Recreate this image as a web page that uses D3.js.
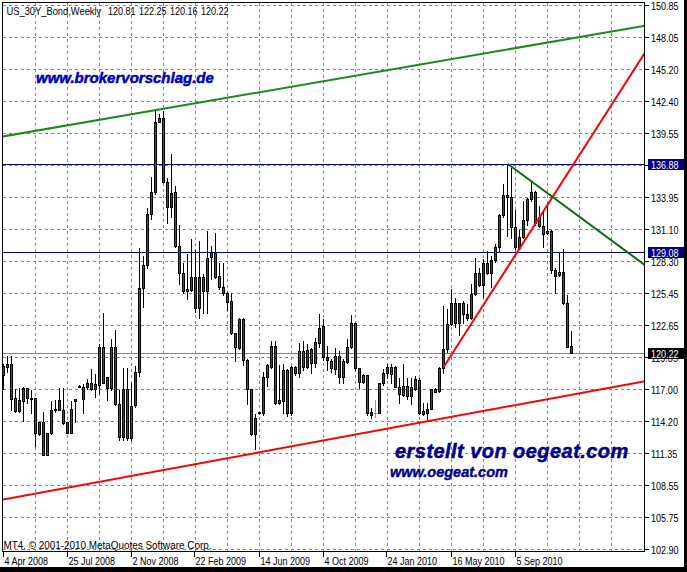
<!DOCTYPE html>
<html><head><meta charset="utf-8">
<script src="https://cdn.jsdelivr.net/npm/d3@7"></script>
<style>
html,body{margin:0;padding:0;background:#fff;}
svg{display:block;}
</style></head><body><svg id="chart" width="687" height="572"></svg>
<script>
// Weekly OHLC, US 30Y Bond, one entry per week starting 4 Apr 2008
const opens = [118.26,118.97,119.23,116.23,115.11,116.01,117.09,116.23,116.19,113.04,114.16,111.23,113.11,115.24,116.06,115.18,114.09,113.18,115.93,117.27,116.12,117.23,117.53,117.00,117.34,120.70,118.11,117.09,120.70,115.71,112.82,117.00,112.68,115.62,118.55,125.90,127.96,132.45,134.36,140.58,140.88,135.30,133.04,134.36,129.66,127.28,125.81,125.75,126.92,124.14,126.87,125.69,128.63,129.04,126.99,125.99,125.46,124.78,121.94,120.61,123.17,119.58,117.00,113.06,114.89,114.89,118.06,118.99,120.82,115.77,116.00,118.70,114.94,118.99,118.41,120.40,118.99,120.53,119.29,121.11,122.58,119.87,119.50,118.76,119.94,118.06,119.43,120.70,122.82,118.85,117.67,118.26,114.74,114.94,114.94,117.53,118.41,118.99,118.94,117.23,116.50,117.29,116.41,117.00,117.82,115.06,114.89,115.24,117.00,116.88,118.85,120.53,122.76,124.63,122.82,124.63,123.64,123.26,125.40,127.22,126.19,128.16,127.22,128.40,129.52,132.36,133.92,133.92,131.28,129.43,130.40,131.92,133.75,134.42,132.21,131.39,130.75,130.98,126.99,127.37,127.37,124.58,120.81];
const highs = [119.32,120.02,120.02,117.12,117.23,117.25,117.23,117.03,116.23,114.25,115.07,113.15,116.06,116.15,117.20,117.18,114.21,116.06,116.19,117.44,117.53,118.02,118.85,118.41,121.08,123.84,118.17,121.50,122.29,117.00,118.99,118.99,117.67,119.14,129.57,128.84,133.09,135.80,141.77,141.38,141.62,135.74,137.85,135.01,131.57,128.25,129.04,130.31,129.37,130.16,127.28,131.04,129.72,130.89,128.25,128.25,125.69,125.60,122.00,123.35,123.35,119.73,117.09,114.94,115.03,118.64,119.29,121.35,121.35,119.23,119.29,118.85,119.14,119.14,121.20,121.35,121.11,120.76,121.58,123.70,123.26,120.91,119.73,120.76,120.46,119.73,121.50,123.64,122.96,118.99,118.41,118.35,115.47,116.12,117.67,118.85,119.35,119.29,119.14,118.06,119.29,118.11,118.06,118.26,118.11,115.91,115.91,117.09,117.23,119.05,124.43,124.14,125.90,125.16,124.72,124.87,124.58,126.40,128.63,127.81,128.55,129.28,128.84,129.87,132.51,135.16,136.88,136.62,132.86,131.10,133.68,133.97,135.38,134.57,133.24,132.86,133.53,131.10,127.75,129.08,129.43,125.40,122.25];
const lows = [117.03,118.53,115.15,115.03,115.04,114.21,115.79,114.91,111.96,113.00,111.17,111.17,113.06,115.00,115.15,113.93,113.11,113.15,114.16,117.18,114.94,117.03,116.94,116.32,116.68,117.53,116.06,116.94,115.62,112.53,112.53,112.53,112.53,115.41,118.17,124.23,127.66,131.98,134.19,140.58,135.30,131.68,132.21,129.57,126.28,125.51,124.93,125.66,123.81,123.26,123.75,123.70,126.70,126.78,125.81,125.31,123.99,121.87,119.52,120.53,119.14,115.71,112.97,111.71,114.82,114.74,117.29,118.85,115.71,115.71,114.89,114.65,114.74,118.26,118.11,118.70,118.85,118.41,118.99,120.76,119.58,118.70,118.55,118.35,117.58,117.58,119.29,120.61,118.70,117.09,117.53,114.74,114.45,114.59,114.89,117.38,117.97,117.58,117.18,115.82,116.41,116.12,115.71,116.94,114.82,114.71,114.36,115.24,116.72,116.79,118.41,120.31,122.67,122.47,121.79,122.87,123.11,123.17,125.31,126.10,125.16,127.16,125.99,128.25,129.13,132.21,130.51,130.31,129.34,129.34,130.31,131.48,133.62,131.48,131.33,129.57,130.69,127.28,125.46,126.99,124.52,120.70,120.16];
const closes = [119.05,119.23,116.12,115.11,116.06,117.12,116.19,116.15,113.12,114.12,111.23,113.13,115.18,115.28,115.20,114.06,113.18,115.24,116.12,117.31,117.18,117.53,117.00,117.44,120.73,117.58,117.09,120.70,115.71,112.82,117.00,112.68,115.53,118.55,125.90,127.96,132.45,134.36,140.58,140.88,135.30,133.04,134.27,129.66,127.28,125.69,125.69,126.92,124.14,126.87,125.69,128.55,129.04,126.92,125.99,125.46,124.72,121.94,120.70,123.17,119.58,117.00,113.06,114.44,114.96,118.11,119.14,120.82,115.77,116.06,118.70,114.94,118.99,118.41,120.40,118.99,120.46,119.35,121.20,122.38,119.87,119.58,118.85,119.94,118.06,119.52,120.70,122.82,118.85,117.67,118.26,114.89,115.03,114.94,117.53,118.46,118.99,118.35,117.23,116.59,117.29,116.41,117.23,117.88,114.94,114.82,115.24,117.00,116.79,118.85,120.53,122.76,124.63,122.82,124.58,123.64,123.26,125.40,127.22,126.19,128.16,127.22,128.40,129.52,132.36,134.12,134.12,131.28,129.52,130.40,131.92,133.75,134.42,131.68,131.39,130.69,130.98,127.51,127.51,127.07,124.58,120.76,120.22];

// Time axis: bar index of each labelled week and its label
const dateTickIndex = [0,16,32,48,64,80,96,112,128];
const dateTickLabels = ["4 Apr 2008","25 Jul 2008","2 Nov 2008","22 Feb 2009","14 Jun 2009","4 Oct 2009","24 Jan 2010","16 May 2010","5 Sep 2010"];

// Price axis labels (the 136.75 row sits under the 136.88 tag)
const priceTicks = ["150.85","148.05","145.20","142.40","139.55","136.75","133.95","131.10","128.30","125.45","122.65","119.85","117.00","114.20","111.35","108.55","105.75","102.90"];

// Horizontal levels and current bid
const levelPrices = [136.88, 129.08];
const bidPrice = 120.22;

// Header: symbol, period and last bar O/H/L/C
const headerSymbol = "US_30Y_Bond,Weekly";
const headerOHLC = ["120.81","122.25","120.16","120.22"];

// Trend lines: two anchors each, [bar index, price]
const trendUpperGreen = [[0,139.29],[140,147.80]];
const trendLowerRed   = [[0,107.29],[140,116.39]];
const trendSteepRed   = [[110,118.94],[130,129.95]];
const trendDownGreen  = [[126,136.88],[140,133.24]];

const svg = d3.select("#chart");
const W = 687, H = 572;
const plot = {l:2.5, t:2.5, r:644.5, b:551.5};

const x = d3.scaleLinear().domain([0,160]).range([3.5,643.5]);
const y = d3.scaleLinear().domain([102.90,150.85]).range([549.3,5.2]);
const py = v => Math.round(y(v)) + 0.5;

svg.append("rect").attr("width",W).attr("height",H).attr("fill","#fff");

svg.append("defs").append("clipPath").attr("id","plotclip")
  .append("rect").attr("x",plot.l).attr("y",plot.t)
  .attr("width",plot.r-plot.l).attr("height",plot.b-plot.t);

const FONT = "'Liberation Sans',Arial,sans-serif";
const gridColor = "#778899";

// small UI text: 11px glyphs squeezed horizontally
function uiText(sel, tx, ty, str, fill, sx) {
  return sel.append("text")
    .attr("transform",`translate(${tx},${ty}) scale(${sx || 0.82},1)`)
    .attr("font-family",FONT).attr("font-size",11)
    .attr("fill",fill || "#000").text(str);
}

// grid
const grid = svg.append("g").attr("stroke",gridColor).attr("stroke-width",1)
  .attr("stroke-dasharray","3,3").attr("shape-rendering","crispEdges");
priceTicks.forEach(t => {
  grid.append("line").attr("x1",plot.l).attr("x2",plot.r)
    .attr("y1",py(+t)).attr("y2",py(+t));
});
d3.range(8,160,8).forEach(i => {
  grid.append("line").attr("x1",x(i)).attr("x2",x(i))
    .attr("y1",plot.t).attr("y2",plot.b);
});

const g = svg.append("g").attr("clip-path","url(#plotclip)");

// level lines
levelPrices.forEach(p => {
  g.append("line").attr("x1",plot.l).attr("x2",plot.r)
    .attr("y1",py(p)).attr("y2",py(p))
    .attr("stroke","#000080").attr("stroke-width",1).attr("shape-rendering","crispEdges");
});
g.append("line").attr("x1",plot.l).attr("x2",plot.r)
  .attr("y1",py(bidPrice)).attr("y2",py(bidPrice))
  .attr("stroke","#778899").attr("stroke-width",1).attr("shape-rendering","crispEdges");

// candles
const candles = g.append("g").attr("shape-rendering","crispEdges");
opens.forEach((o,i) => {
  const c = closes[i], hi = highs[i], lo = lows[i];
  const cx = x(i);
  const doji = o === c;
  const wickColor = doji ? "#00ff00" : "#000";
  candles.append("line").attr("x1",cx).attr("x2",cx)
    .attr("y1",py(hi)).attr("y2",py(lo)+0.5)
    .attr("stroke",wickColor).attr("stroke-width",1);
  if (doji) {
    candles.append("line").attr("x1",cx-1.5).attr("x2",cx+1.5)
      .attr("y1",py(o)).attr("y2",py(o)).attr("stroke","#00ff00");
  } else {
    const top = py(Math.max(o,c)), bot = py(Math.min(o,c));
    candles.append("rect").attr("x",cx-1).attr("y",top)
      .attr("width",2).attr("height",Math.max(bot-top,1))
      .attr("fill", c > o ? "#007a00" : "#ff0000")
      .attr("stroke","#000").attr("stroke-width",1);
  }
});

// trend lines
function trend(pts, color, ray) {
  const [[i1,p1],[i2,p2]] = pts;
  const k = (p2-p1)/(i2-i1);
  const a = ray ? i1 : -2, b = 162;
  g.append("line")
    .attr("x1",x(a)).attr("y1",y(p1 + k*(a-i1)))
    .attr("x2",x(b)).attr("y2",y(p1 + k*(b-i1)))
    .attr("stroke",color).attr("stroke-width",2);
}
trend(trendUpperGreen,"#1c8a1c",false);
trend(trendLowerRed,"#ff0000",false);
trend(trendSteepRed,"#ff0000",true);
trend(trendDownGreen,"#0a6a0a",true);

// frame
svg.append("rect").attr("x",plot.l).attr("y",plot.t)
  .attr("width",plot.r-plot.l).attr("height",plot.b-plot.t)
  .attr("fill","none").attr("stroke","#000").attr("shape-rendering","crispEdges");

// price axis
const ax = svg.append("g");
const tagged = [...levelPrices, bidPrice].map(p => py(p));
priceTicks.forEach(t => {
  const yy = py(+t);
  ax.append("line").attr("x1",plot.r).attr("x2",plot.r+4).attr("y1",yy).attr("y2",yy)
    .attr("stroke","#000").attr("shape-rendering","crispEdges");
  // a label fully under a price tag is not drawn
  if (tagged.some(ty => Math.abs(ty - yy) < 3)) return;
  uiText(ax, 651, yy+4, t);
});
function tag(p, bg) {
  const yy = py(p);
  ax.append("rect").attr("x",648).attr("y",yy-5.5).attr("width",36).attr("height",11).attr("fill",bg);
  uiText(ax, 651, yy+4, p.toFixed(2), "#fff");
}
levelPrices.forEach(p => tag(p,"#000080"));
tag(bidPrice,"#000");

// time axis
dateTickIndex.forEach((idx,k) => {
  const xx = Math.round(x(idx)) - 0.5;
  ax.append("line").attr("x1",xx).attr("x2",xx).attr("y1",plot.b).attr("y2",plot.b+5)
    .attr("stroke","#000").attr("shape-rendering","crispEdges");
  uiText(ax, xx+1, 565, dateTickLabels[k]);
});

// header and footer captions
uiText(ax, 6.5, 15, headerSymbol, "#000", 0.85);
headerOHLC.forEach((v,k) => uiText(ax, 108 + 31*k, 15, v));
uiText(ax, 3.5, 548.5, "MT4, \u00a9 2001-2010 MetaQuotes Software Corp.", "#000", 0.9);

// watermarks
const wm = svg.append("g").attr("font-family","'Liberation Sans',Arial,sans-serif")
  .attr("font-weight","bold").attr("font-style","italic");
wm.append("text").attr("x",36).attr("y",83).attr("font-size",15)
  .attr("fill","#0000d0").attr("stroke","#0000a0").attr("stroke-width",0.5)
  .text("www.brokervorschlag.de");
wm.append("text").attr("x",395).attr("y",457.5).attr("font-size",20)
  .attr("letter-spacing",0.45)
  .attr("fill","#000096").attr("stroke","#000080").attr("stroke-width",0.5)
  .text("erstellt von oegeat.com");
wm.append("text").attr("x",390).attr("y",477).attr("font-size",14.5)
  .attr("fill","#000096").attr("stroke","#000080").attr("stroke-width",0.4)
  .text("www.oegeat.com");

// outer window edge
svg.append("rect").attr("x",684).attr("y",0).attr("width",3).attr("height",H).attr("fill","#000");
svg.append("rect").attr("x",0).attr("y",567).attr("width",W).attr("height",5).attr("fill","#000");
</script></body></html>
